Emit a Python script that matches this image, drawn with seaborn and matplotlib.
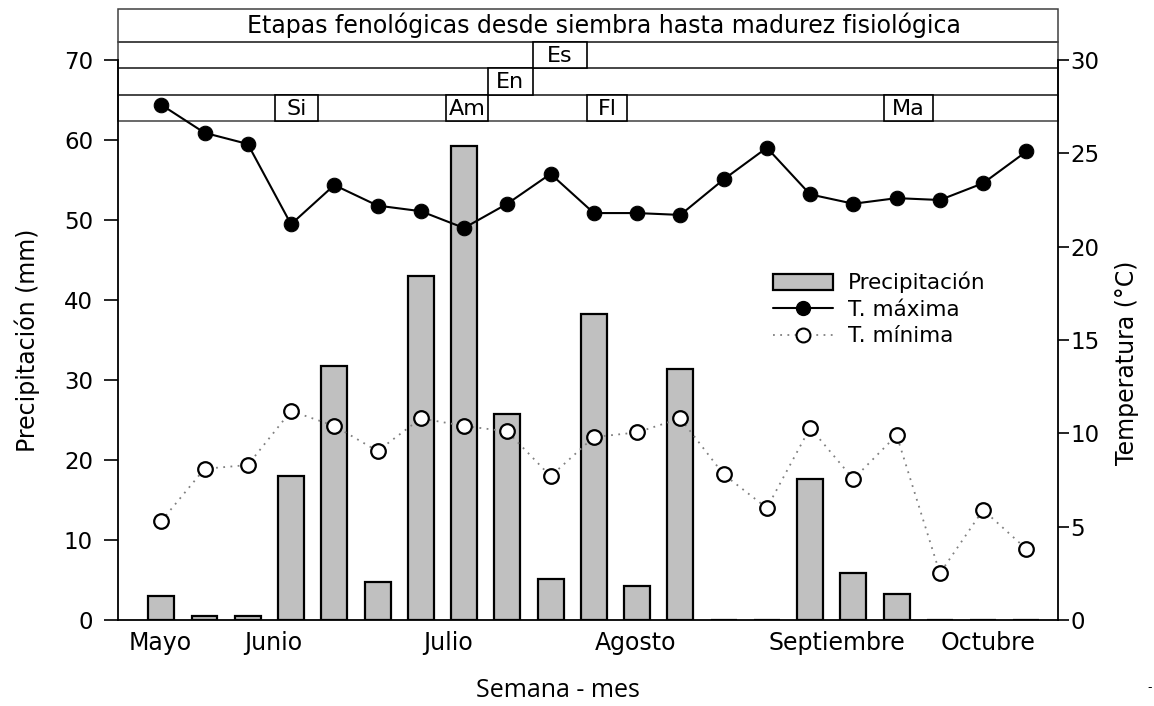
import matplotlib
matplotlib.use("Agg")
import matplotlib.pyplot as plt
import seaborn as sns
from matplotlib.patches import Rectangle, Patch
from matplotlib.lines import Line2D

# datos semanales
weeks = list(range(1, 22))
precip = [3.0, 0.45, 0.45, 18.0, 31.8, 4.7, 43.0, 59.2, 25.8, 5.1, 38.2,
          4.2, 31.4, 0.0, 0.0, 17.6, 5.9, 3.3, 0.0, 0.0, 0.0]
tmax = [27.6, 26.1, 25.5, 21.2, 23.3, 22.2, 21.9, 21.0, 22.3, 23.9, 21.8,
        21.8, 21.7, 23.6, 25.3, 22.8, 22.3, 22.6, 22.5, 23.4, 25.1]
tmin = [5.3, 8.1, 8.3, 11.2, 10.4, 9.05, 10.8, 10.4, 10.1, 7.7, 9.8,
        10.05, 10.8, 7.8, 6.0, 10.3, 7.55, 9.9, 2.5, 5.9, 3.8]

month_names = ["Mayo", "Junio", "Julio", "Agosto", "Septiembre", "Octubre"]
month_centers = [0.97, 3.58, 7.62, 11.97, 16.62, 20.11]
month_edges = [0.46, 1.48, 5.46, 9.43, 14.36, 18.59, 21.59]

# etapas fenologicas (semana inicio/fin, fila)
stage_names = ["Si", "Am", "En", "Es", "Fl", "Ma"]
stage_start = [3.63, 7.58, 8.55, 9.59, 10.84, 17.71]
stage_end = [4.62, 8.55, 9.59, 10.84, 11.77, 18.84]
stage_row = [0, 0, 1, 2, 0, 0]

sns.set_style("white")
plt.rcParams['font.family'] = ['DejaVu Sans']
plt.rcParams.update({"text.color": "black", "axes.labelcolor": "black",
                     "xtick.color": "black", "ytick.color": "black"})

fig = plt.figure(figsize=(11.54, 7.06), dpi=100)
ax = fig.add_axes([118 / 1154, 1 - 620 / 706, 940 / 1154, 560 / 706])

sns.barplot(x=weeks, y=precip, native_scale=True, width=0.6, color="#c0c0c0",
            edgecolor="black", linewidth=1.6, saturation=1, ax=ax)
ax.set_xlim(0, 21.73)
ax.set_ylim(0, 70)
ax.set_yticks(range(0, 71, 10))
ax.set_xticks(month_edges)
ax.set_xticklabels([])
ax.set_xticks(weeks, minor=True)
ax.tick_params(axis="x", which="major", direction="out", length=12, width=1.2)
ax.tick_params(axis="x", which="minor", direction="inout", length=4, width=0.8, color="0.6")
ax.tick_params(axis="y", direction="out", length=10, width=1.2, pad=8, labelsize=16.5)
for s in ["left", "bottom", "right", "top"]:
    ax.spines[s].set_linewidth(1.3)
    ax.spines[s].set_color("black")
ax.spines["top"].set_visible(False)

for name, xc in zip(month_names, month_centers):
    ax.text(xc, -0.041, name, transform=ax.get_xaxis_transform(),
            ha="center", va="center", fontsize=17)

ax.set_ylabel("Precipitación (mm)", fontsize=17)
ax.yaxis.set_label_coords(-0.083, 0.5)
ax.set_xlabel("Semana - mes", fontsize=18, family=["Open Sans", "DejaVu Sans"])
ax.xaxis.set_label_coords(0.468, -0.103)

# cabecera de etapas
row_y = [62.375, 65.625, 69.0, 72.25]
x0, x1 = 0, 21.73
for i in range(3):
    ax.add_patch(Rectangle((x0, row_y[i]), x1 - x0, row_y[i + 1] - row_y[i],
                           fill=False, edgecolor="0.25", lw=1.1, clip_on=False))
ax.add_patch(Rectangle((x0, 72.25), x1 - x0, 4.125, fill=False,
                       edgecolor="0.25", lw=1.1, clip_on=False))
ax.text(11.23, 74.3, "Etapas fenológicas desde siembra hasta madurez fisiológica",
        ha="center", va="center", fontsize=17)
for name, a, b, r in zip(stage_names, stage_start, stage_end, stage_row):
    ax.add_patch(Rectangle((a, row_y[r]), b - a, row_y[r + 1] - row_y[r],
                           facecolor="white", edgecolor="black", lw=1.2,
                           clip_on=False, zorder=3))
    ax.text((a + b) / 2, (row_y[r] + row_y[r + 1]) / 2 - 0.1, name,
            ha="center", va="center", fontsize=16, zorder=4)

# temperaturas
ax2 = ax.twinx()
sns.lineplot(x=weeks, y=tmax, ax=ax2, color="black", lw=1.5, marker="o",
             markersize=10.5, markerfacecolor="black", markeredgecolor="black")
sns.lineplot(x=weeks, y=tmin, ax=ax2, color="0.5", lw=1.3, linestyle=(0, (1, 3)),
             marker="o", markersize=10.5, markerfacecolor="white",
             markeredgecolor="black", markeredgewidth=1.6)
ax2.set_ylim(0, 30)
ax2.set_yticks(range(0, 31, 5))
ax2.tick_params(axis="y", direction="out", length=8, width=1.2, pad=1, labelsize=16.5)
ax2.set_ylabel("Temperatura (°C)", fontsize=17)
ax2.yaxis.set_label_coords(1.061, 0.46)
for s in ax2.spines.values():
    s.set_visible(False)

handles = [
    Patch(facecolor="#c0c0c0", edgecolor="black", lw=1.6),
    Line2D([], [], color="black", lw=1.5, marker="o", markersize=10, markerfacecolor="black"),
    Line2D([], [], color="0.5", lw=1.3, linestyle=(0, (1, 3)), marker="o", markersize=10,
           markerfacecolor="white", markeredgecolor="black", markeredgewidth=1.5),
]
ax2.legend(handles, ["Precipitación", "T. máxima", "T. mínima"], frameon=False,
           loc="upper left", bbox_to_anchor=(773 / 1154, 1 - 272 / 706),
           bbox_transform=fig.transFigure, fontsize=15.5, handlelength=2.8,
           handleheight=0.75, handletextpad=0.7, labelspacing=0.3, borderpad=0,
           borderaxespad=0)

fig.text(1152 / 1154, 1 - 688 / 706, "-", fontsize=9, ha="right", va="center")

fig.savefig("out.png", dpi=100)
